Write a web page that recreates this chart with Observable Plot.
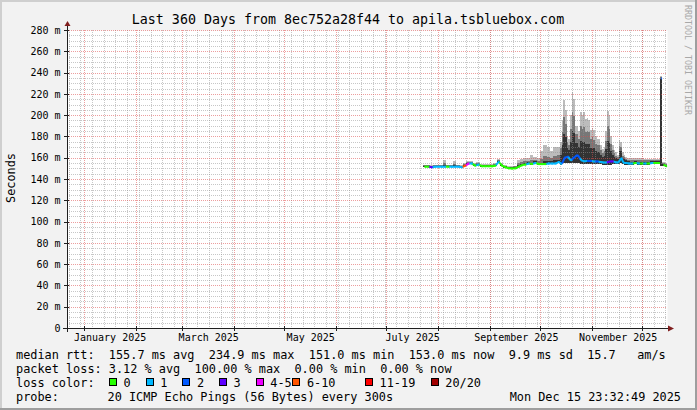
<!DOCTYPE html>
<html><head><meta charset="utf-8">
<script src="https://cdn.jsdelivr.net/npm/d3@7"></script>
<script src="https://cdn.jsdelivr.net/npm/@observablehq/plot@0.6"></script>
<style>
html,body{margin:0;padding:0;background:#f2f2f2;}
#chart{width:697px;height:410px;}
svg text{white-space:pre;}
</style></head><body><div id="chart"></div>
<script>
// ---------- data ----------
const dates = [
"2025-07-23","2025-07-25","2025-07-27","2025-07-29","2025-07-31",
"2025-08-02","2025-08-04","2025-08-06","2025-08-08","2025-08-10","2025-08-12","2025-08-14","2025-08-16","2025-08-18","2025-08-20","2025-08-22","2025-08-24","2025-08-26","2025-08-28","2025-08-30",
"2025-09-01","2025-09-03","2025-09-05","2025-09-07","2025-09-09","2025-09-11","2025-09-13","2025-09-15","2025-09-17","2025-09-19","2025-09-21","2025-09-23","2025-09-25","2025-09-27","2025-09-29",
"2025-10-01","2025-10-03","2025-10-05","2025-10-07","2025-10-09","2025-10-11",
"2025-10-13","2025-10-14","2025-10-15","2025-10-16","2025-10-17","2025-10-18","2025-10-19","2025-10-20","2025-10-21","2025-10-22","2025-10-23","2025-10-24","2025-10-25","2025-10-26","2025-10-27","2025-10-28","2025-10-29","2025-10-30","2025-10-31",
"2025-11-01","2025-11-02","2025-11-03","2025-11-04","2025-11-05","2025-11-06","2025-11-07","2025-11-08","2025-11-09","2025-11-10","2025-11-11","2025-11-12","2025-11-13","2025-11-14","2025-11-15","2025-11-16","2025-11-17","2025-11-18","2025-11-19","2025-11-20","2025-11-21",
"2025-11-22","2025-11-24","2025-11-26","2025-11-28","2025-11-30",
"2025-12-02","2025-12-04","2025-12-06","2025-12-08","2025-12-10","2025-12-12","2025-12-13","2025-12-15"];
const median = [
152,152,151.5,152,152,
152,152,152,152,152,152,151.5,153,155,155,153,154,152.5,152.5,152.5,
152.5,153,156.5,153,151.5,150.5,150.3,150.5,152,153.5,154,155,154.5,155.5,154.5,
154.5,154.5,155,155,155,156.5,
154.5,157,160.5,161,161.5,159,158,160,161,162.5,162.5,160,158,157.5,157,157.5,157.5,157.5,157.5,
157,157,157,157,156.5,156.5,156,156,156,156.5,157,157,157,156.5,156,156,158,160,156,155.5,155.5,
155,155,155.5,155,155,
155,155,155.5,155.5,155.5,235,153.5,152.5];
const loss = [
0,0,3,1,1,
1,1,0,1,1,1,1,5,4,1,0,1,0,0,0,
0,0,1,0,0,0,0,0,0,0,0,1,0,1,0,
0,0,1,1,1,1,
1,2,2,2,2,1,1,2,2,2,2,2,1,1,1,1,2,2,2,
1,1,2,2,1,1,1,1,1,3,3,3,3,1,1,1,1,1,1,1,1,
1,1,0,1,0,
1,0,1,0,0,2,0,0];
const smokeHi = [
153.5,153.5,153,153.5,153.5,
153.5,158,153.5,153.5,156.5,153.5,153,155,157,157,155,156,154,154,154,
154,155,159,155,153,152,152,152.5,158,159,160,160,163,161,160,
166,172,170,166,170,170,
175,195,214,205,180,178,200,222,215,190,190,185,203,200,203,196,197,195,186,
188,186,180,178,178,172,168,170,185,204,200,180,172,167,165,163,177,175,165,163,161,
160,160,160,160,160,
159,159,159,159,159,237,156,155];
const smokeP90 = [
153,153,152.5,153,153,
153,155,153,153,154,153,152.5,154.5,156,156,154.5,155,153.5,153.5,153.5,
153.5,154,157.5,154,152.5,151.5,151.5,152,155,156,157,157,158,158,157,
159,162,161,160,162,163,
169,184,198,192,174.5,172,187,203,199,182,182,177.5,189.5,187,189,184.5,185,184,177.5,
179,177,173,172,171.5,167,164,166,176,190,187,173,167.5,164,162,161,171,170.5,162,161,159,
158,158,158,158,158,
157.5,157.5,158,158,158,236,155,154];
const smokeMid = [
152.5,152.5,152,152.5,152.5,
152.5,153,152.5,152.5,153,152.5,152,153.5,155.5,155.5,153.5,154.5,153,153,153,
153,153.5,157,153.5,152,151,151,151,153,154.5,155,156,155.5,156.5,155.5,
155.5,157,157,157,158,158,
163,172,182,179,169,167,175,185,183,173.5,173.5,170,176,174.5,175,173,173,172.5,169,
169,169,166,165,165,163,161,162,168,175.5,174,166,163,161,160,159,166,166,160,158.5,158,
156.5,156,156.5,156,156,
156,156,156.5,156.5,156.5,234,154.5,153.5];
const smokeLo = [
151,151,150.5,151,151,
151,151,151,151,151,151,150.5,152,154,154,152,153,151.5,151.5,151.5,
151.5,152,155,152,150.5,149.5,149.3,149.5,151,152.5,153,154,153.5,154,153.5,
153.5,153.5,154,154,154,155,
153.5,155,155,155,155,155,155,155,155,155,155,155,154.5,154.5,154,154,154,154,154,
154,154,154,154,154,154,153.5,153.5,153.5,153,153,153.5,154,154,154,154,154.5,155,154,153.5,153.5,
153.5,153.5,154,153.5,153.5,
153.5,153.5,154,154,154,152,152,151];

const lossLabels = ["0","1","2","3","4-5","6-10","11-19","20/20"];
const lossColors = ["#26ff00","#00b8ff","#0059ff","#5e00ff","#ee00ff","#ff5500","#ff0000","#a10000"];

const xTickDates = ["2025-01-16T12:00:00Z","2025-03-16T12:00:00Z","2025-05-16T12:00:00Z","2025-07-16T12:00:00Z","2025-09-16T12:00:00Z","2025-11-16T12:00:00Z"];
const xTickLabels = ["January 2025","March 2025","May 2025","July 2025","September 2025","November 2025"];
const yTicks = [0,20,40,60,80,100,120,140,160,180,200,220,240,260,280];
const yTickLabels = ["0","20 m","40 m","60 m","80 m","100 m","120 m","140 m","160 m","180 m","200 m","220 m","240 m","260 m","280 m"];

const titleText = "Last 360 Days from 8ec752a28f44 to apila.tsbluebox.com";
const yLabelText = "Seconds";
const rttStats = ["155.7","234.9","151.0","153.0","9.9","15.7"];
const lossStats = ["3.12","100.00","0.00","0.00"];
const probeText = "20 ICMP Echo Pings (56 Bytes) every 300s";
const stampText = "Mon Dec 15 23:32:49 2025";
const watermark = "RRDTOOL / TOBI OETIKER";

// ---------- build ----------
const t0 = new Date(Date.UTC(2024,11,22,0,0,0));
const t1 = new Date(Date.UTC(2025,11,15,23,32,49));
const parse = s => new Date(s + "T00:00:00Z");
const rows = dates.map((d,i) => {
  const t = parse(d);
  const t2 = i < dates.length-1 ? parse(dates[i+1]) : t1;
  return {t, t2, tm: new Date((+t + +t2)/2), med: median[i], loss: loss[i],
          lo: smokeLo[i], mid: smokeMid[i], p90: smokeP90[i], hi: smokeHi[i]};
});
const segs = [];
rows.forEach((r,i) => {
  if (i > 0 && Math.abs(r.med - rows[i-1].med) < 20)
    segs.push({x1: rows[i-1].tm, y1: rows[i-1].med, x2: r.tm, y2: r.med, c: lossColors[r.loss]});
});
const flats = rows.map(r => ({x1: new Date(+r.tm - (r.t2 - r.t)/4), x2: new Date(+r.tm + (r.t2 - r.t)/4), y: r.med, c: lossColors[r.loss]}));

const xLab = new Map(xTickDates.map((d,i)=>[+new Date(d), xTickLabels[i]]));
const yLab = new Map(yTicks.map((v,i)=>[v, yTickLabels[i]]));
const weekLines = d3.utcMonday.range(t0, t1);
const monthLines = d3.utcMonth.range(t0, t1);
const minorY = d3.range(5, 281, 5).filter(v => v % 20 !== 0);
const majorY = d3.range(20, 281, 20);

const GRID = "rgba(143,143,143,0.5)";
const MGRID = "rgba(222,79,79,0.55)";
const FONT = "'DejaVu Sans Mono', monospace";

const chart = Plot.plot({
  width: 697, height: 410,
  marginLeft: 67, marginRight: 30, marginTop: 30, marginBottom: 82,
  style: {background: "transparent", fontFamily: FONT, fontSize: "10px", color: "#000", overflow: "visible"},
  x: {type: "utc", domain: [t0, t1], ticks: xTickDates.map(d => new Date(d)), tickFormat: d => xLab.get(+d), tickSize: 0, tickPadding: 5, label: null},
  y: {domain: [0, 280], ticks: yTicks, tickFormat: v => yLab.get(v), tickSize: 0, tickPadding: 7, label: null},
  color: {type: "identity"},
  marks: [
    Plot.frame({fill: "white", stroke: "none"}),
    Plot.rect(rows, {x1: "t", x2: "t2", y1: "lo", y2: "hi", fill: "#bcbcbc", shapeRendering: "crispEdges"}),
    Plot.rect(rows, {x1: "t", x2: "t2", y1: "lo", y2: "p90", fill: "#777777", shapeRendering: "crispEdges"}),
    Plot.rect(rows, {x1: "t", x2: "t2", y1: "lo", y2: "mid", fill: "#333333", shapeRendering: "crispEdges"}),
    Plot.ruleX(weekLines, {stroke: GRID, strokeDasharray: "1,1", shapeRendering: "crispEdges"}),
    Plot.ruleY(minorY, {stroke: GRID, strokeDasharray: "1,1", shapeRendering: "crispEdges"}),
    Plot.ruleX(monthLines, {stroke: MGRID, strokeDasharray: "1,1", shapeRendering: "crispEdges"}),
    Plot.ruleY(majorY, {stroke: MGRID, strokeDasharray: "1,1", shapeRendering: "crispEdges"}),
    Plot.link(segs, {x1: "x1", y1: "y1", x2: "x2", y2: "y2", stroke: "c", strokeWidth: 2}),
    Plot.link(flats, {x1: "x1", y1: "y", x2: "x2", y2: "y", stroke: "c", strokeWidth: 2})
  ]
});
document.getElementById("chart").appendChild(chart);

const svg = d3.select(chart);
const xs = chart.scale("x"), ys = chart.scale("y");
const X0 = 67, X1 = 697 - 30, Y0 = 410 - 82, Y1 = 30;

// axes
const ax = svg.append("g");
monthLines.forEach(d => {
  const x = Math.round(xs.apply(d)) + 0.5;
  ax.append("line").attr("x1", x).attr("x2", x).attr("y1", Y0 - 2).attr("y2", Y0 + 3).attr("stroke", "#1f1f1f");
});
majorY.forEach(v => {
  const y = Math.round(ys.apply(v)) + 0.5;
  ax.append("line").attr("x1", X0 - 3).attr("x2", X0 + 2).attr("y1", y).attr("y2", y).attr("stroke", "#1f1f1f");
});
ax.append("line").attr("x1", X0 - 4).attr("x2", X1 + 2).attr("y1", Y0 + 0.5).attr("y2", Y0 + 0.5).attr("stroke", "#1f1f1f");
ax.append("line").attr("x1", X0 + 0.5).attr("x2", X0 + 0.5).attr("y1", Y0 + 4).attr("y2", Y1 - 4).attr("stroke", "#1f1f1f");
ax.append("path").attr("d", `M${X0-2.5},${Y1-4}L${X0+3.5},${Y1-4}L${X0+0.5},${Y1-9}Z`).attr("fill", "#801f1f");
ax.append("path").attr("d", `M${X1+1},${Y0-2.5}L${X1+1},${Y0+3.5}L${X1+7},${Y0+0.5}Z`).attr("fill", "#801f1f");

// border shading
svg.append("rect").attr("x", 0).attr("y", 0).attr("width", 697).attr("height", 2).attr("fill", "#cfcfcf");
svg.append("rect").attr("x", 0).attr("y", 0).attr("width", 2).attr("height", 410).attr("fill", "#cfcfcf");
svg.append("rect").attr("x", 0).attr("y", 408).attr("width", 697).attr("height", 2).attr("fill", "#9e9e9e");
svg.append("rect").attr("x", 695).attr("y", 0).attr("width", 2).attr("height", 410).attr("fill", "#9e9e9e");

// texts
const T = svg.append("g").attr("font-family", FONT).attr("fill", "#000").attr("text-anchor", "start");
T.append("text").attr("x", 348).attr("y", 24).attr("text-anchor", "middle").attr("font-size", "13.3px").text(titleText);
T.append("text").attr("transform", "translate(15,178) rotate(-90)").attr("text-anchor", "middle").attr("font-size", "11.86px").text(yLabelText);
T.append("text").attr("transform", "translate(685,5) rotate(90)").attr("font-size", "8.3px").attr("fill", "#a8a8a8").text(watermark);

const LF = "11.86px";
const line1 = `median rtt:  ${rttStats[0]} ms avg  ${rttStats[1]} ms max  ${rttStats[2]} ms min  ${rttStats[3]} ms now  ${rttStats[4]} ms sd  ${rttStats[5]}   am/s`;
const line2 = `packet loss: ${lossStats[0]} % avg  ${lossStats[1]} % max  ${lossStats[2]} % min  ${lossStats[3]} % now`;
T.append("text").attr("x", 16).attr("y", 358.5).attr("font-size", LF).text(line1);
T.append("text").attr("x", 16).attr("y", 372.5).attr("font-size", LF).text(line2);
T.append("text").attr("x", 16).attr("y", 386.5).attr("font-size", LF).text("loss color:");
T.append("text").attr("x", 16).attr("y", 400.5).attr("font-size", LF).text("probe:");
T.append("text").attr("x", 107.5).attr("y", 400.5).attr("font-size", LF).text(probeText);
T.append("text").attr("x", 681).attr("y", 400.5).attr("text-anchor", "end").attr("font-size", LF).text(stampText);

const swatchX = [109, 145.7, 182.3, 219, 255.7, 292.3, 365, 430.7];
lossLabels.forEach((lab, i) => {
  const x = Math.round(swatchX[i]);
  T.append("rect").attr("x", x + 0.5).attr("y", 378.5).attr("width", 7).attr("height", 7)
    .attr("fill", lossColors[i]).attr("stroke", "#000");
  T.append("text").attr("x", swatchX[i] + 14.6).attr("y", 386.5).attr("font-size", LF).text(lab);
});
</script>
</body></html>
